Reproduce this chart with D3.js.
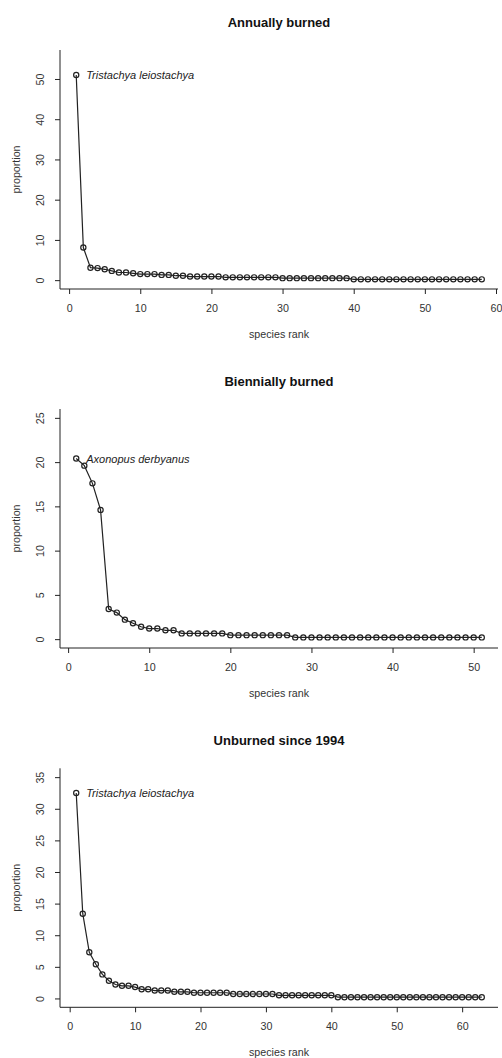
<!DOCTYPE html>
<html>
<head>
<meta charset="utf-8">
<script src="https://cdn.jsdelivr.net/npm/d3@7"></script>
<style>
  body { margin: 0; background: #fff; }
  text { font-family: "Liberation Sans", Arial, sans-serif; }
</style>
</head>
<body>
<div id="chart"></div>
<script>
// rank-abundance values (% proportion)
const annualValues = [51, 8.1, 3.1, 3.0, 2.7, 2.3, 1.9, 1.9, 1.7, 1.5,
  1.5, 1.5, 1.3, 1.3, 1.1, 1.1, 0.9, 0.9, 0.9, 0.9,
  0.9, 0.7, 0.7, 0.7, 0.7, 0.7, 0.7, 0.7, 0.7,
  0.5, 0.5, 0.5, 0.5, 0.5, 0.5, 0.5, 0.5, 0.5, 0.5,
  0.2, 0.2, 0.2, 0.2, 0.2, 0.2, 0.2, 0.2, 0.2, 0.2,
  0.2, 0.2, 0.2, 0.2, 0.2, 0.2, 0.2, 0.2, 0.2];
const biennialValues = [20.4, 19.6, 17.6, 14.6, 3.4, 3.0, 2.2, 1.8, 1.4, 1.2,
  1.2, 1.0, 1.0, 0.65, 0.65, 0.65, 0.65, 0.65, 0.65, 0.45,
  0.45, 0.45, 0.45, 0.45, 0.45, 0.45, 0.45,
  0.2, 0.2, 0.2, 0.2, 0.2, 0.2, 0.2, 0.2, 0.2, 0.2, 0.2, 0.2,
  0.2, 0.2, 0.2, 0.2, 0.2, 0.2, 0.2, 0.2, 0.2, 0.2, 0.2, 0.2];
const unburnedValues = [32.5, 13.4, 7.3, 5.4, 3.8, 2.8, 2.2, 2.0, 2.0, 1.8,
  1.45, 1.45, 1.25, 1.25, 1.25, 1.05, 1.05, 1.05, 0.9, 0.9,
  0.9, 0.9, 0.9, 0.9, 0.7, 0.7, 0.7, 0.7, 0.7, 0.7,
  0.7, 0.5, 0.5, 0.5, 0.5, 0.5, 0.5, 0.5, 0.5, 0.5,
  0.2, 0.2, 0.2, 0.2, 0.2, 0.2, 0.2, 0.2, 0.2, 0.2, 0.2, 0.2,
  0.2, 0.2, 0.2, 0.2, 0.2, 0.2, 0.2, 0.2, 0.2, 0.2, 0.2];

const panelTitles = ['Annually burned', 'Biennially burned', 'Unburned since 1994'];
const topSpecies = ['Tristachya leiostachya', 'Axonopus derbyanus', 'Tristachya leiostachya'];
const yMaxes = [55, 25, 35];
const yTickSets = [[0, 10, 20, 30, 40, 50], [0, 5, 10, 15, 20, 25], [0, 5, 10, 15, 20, 25, 30, 35]];
const xTickSets = [[0, 10, 20, 30, 40, 50, 60], [0, 10, 20, 30, 40, 50], [0, 10, 20, 30, 40, 50, 60]];
const seriesList = [annualValues, biennialValues, unburnedValues];

const W = 502, H = 1058;
const left = 60, right = 498, plotH = 239;
const tops = [50, 409, 768.3];
const ink = '#222';

const svg = d3.select('#chart').append('svg')
  .attr('width', W).attr('height', H)
  .style('background', '#fff');

seriesList.forEach((vals, i) => {
  const n = vals.length;
  const top = tops[i], bottom = top + plotH;
  const ext = 0.04 * (n - 1);
  const x = d3.scaleLinear().domain([1 - ext, n + ext]).range([left, right]);
  const y = d3.scaleLinear().domain([-0.04 * yMaxes[i], yMaxes[i] * 1.04]).range([bottom, top]);
  const data = vals.map((v, k) => ({rank: k + 1, value: v}));

  const g = svg.append('g');

  // title
  g.append('text').attr('x', (left + right) / 2).attr('y', top - 23)
    .attr('text-anchor', 'middle').attr('font-weight', 'bold')
    .attr('font-size', 13).attr('fill', '#111').text(panelTitles[i]);

  // L-shaped box
  g.append('path').attr('fill', 'none').attr('stroke', ink).attr('stroke-width', 1)
    .attr('d', `M${left},${top}V${bottom}H${right}`);

  // axes
  const xAxis = g.append('g').attr('transform', `translate(0,${bottom})`)
    .call(d3.axisBottom(x).tickValues(xTickSets[i]).tickSize(5).tickPadding(10));
  const yAxis = g.append('g').attr('transform', `translate(${left},0)`)
    .call(d3.axisLeft(y).tickValues(yTickSets[i]).tickSize(5).tickPadding(3));
  [xAxis, yAxis].forEach(a => {
    a.select('.domain').remove();
    a.selectAll('line').attr('stroke', ink);
    a.selectAll('text').attr('font-size', 10.7).attr('fill', '#333')
      .style('font-family', '"Liberation Sans", Arial, sans-serif');
  });
  yAxis.selectAll('.tick text')
    .attr('text-anchor', 'middle').attr('dy', 0)
    .attr('x', 0).attr('y', 0)
    .attr('transform', 'translate(-20,0) rotate(-90)')
    .attr('dominant-baseline', 'central');

  // axis labels
  g.append('text').attr('x', (left + right) / 2).attr('y', bottom + 49)
    .attr('text-anchor', 'middle').attr('font-size', 10.7).attr('fill', '#333')
    .text('species rank');
  g.append('text')
    .attr('transform', `translate(16,${(top + bottom) / 2}) rotate(-90)`)
    .attr('text-anchor', 'middle').attr('dominant-baseline', 'central')
    .attr('font-size', 10.7).attr('fill', '#333')
    .text('proportion');

  // line + points
  g.append('path').datum(data)
    .attr('fill', 'none').attr('stroke', ink).attr('stroke-width', 1.2)
    .attr('d', d3.line().x(d => x(d.rank)).y(d => y(d.value)));
  g.selectAll('circle').data(data).enter().append('circle')
    .attr('cx', d => x(d.rank)).attr('cy', d => y(d.value)).attr('r', 2.6)
    .attr('fill', 'none').attr('stroke', ink).attr('stroke-width', 1.2);

  // dominant species label
  g.append('text').attr('x', x(1) + 10).attr('y', y(vals[0]))
    .attr('dominant-baseline', 'central').attr('font-style', 'italic')
    .attr('font-size', 11).attr('fill', '#222').text(topSpecies[i]);
});
</script>
</body>
</html>
